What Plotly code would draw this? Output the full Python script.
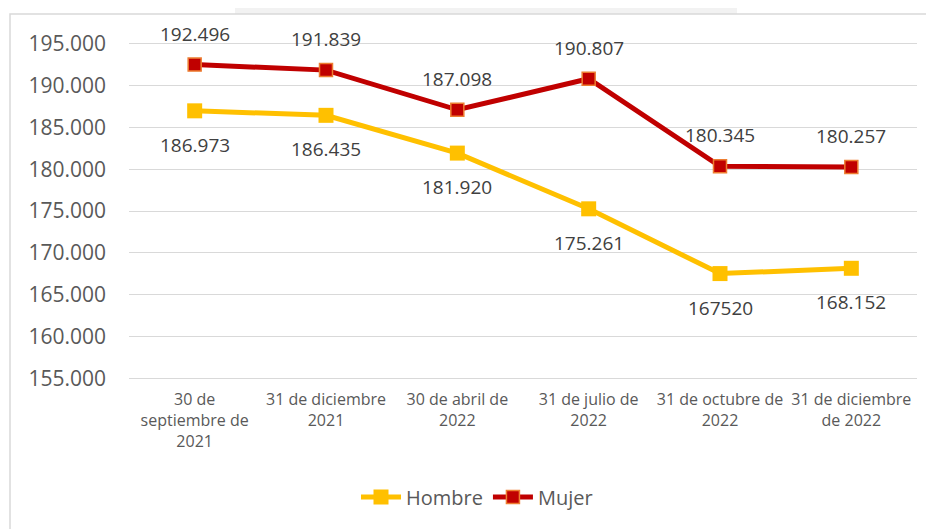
import plotly.graph_objects as go

categories = [
    "30 de<br>septiembre de<br>2021",
    "31 de diciembre<br>2021",
    "30 de abril de<br>2022",
    "31 de julio de<br>2022",
    "31 de octubre de<br>2022",
    "31 de diciembre<br>de 2022",
]
hombre = [186973, 186435, 181920, 175261, 167520, 168152]
mujer = [192496, 191839, 187098, 190807, 180345, 180257]
hombre_labels = ["186.973", "186.435", "181.920", "175.261", "167520", "168.152"]
mujer_labels = ["192.496", "191.839", "187.098", "190.807", "180.345", "180.257"]

FONT = "Open Sans"
TXT = "#595959"

fig = go.Figure()
fig.add_trace(go.Scatter(
    x=categories, y=hombre, name="Hombre", mode="lines+markers",
    line=dict(color="#FFC000", width=5),
    marker=dict(symbol="square", size=15, color="#FFC000", line=dict(width=0)),
    cliponaxis=False,
))
fig.add_trace(go.Scatter(
    x=categories, y=mujer, name="Mujer", mode="lines+markers",
    line=dict(color="#C00000", width=5),
    marker=dict(symbol="square", size=13, color="#C00000",
                line=dict(width=1.5, color="#ED7D31")),
    cliponaxis=False,
))

annotations = []
for c, v, t in zip(categories, mujer, mujer_labels):
    annotations.append(dict(x=c, y=v, text=t, showarrow=False, yshift=31,
                            font=dict(family=FONT, size=19, color="#404040")))
for c, v, t in zip(categories, hombre, hombre_labels):
    annotations.append(dict(x=c, y=v, text=t, showarrow=False, yshift=-34,
                            font=dict(family=FONT, size=19, color="#404040")))

# page body has an 8px margin; figure is offset by it
OFF = 8
W, H = 934 - OFF, 529 - OFF
L, R, T, B = 129 - OFF, 17, 42 - OFF, 149
pw, ph = W - L - R, H - T - B

def px_x(px):
    return (px - OFF - L) / pw

def px_y(py):
    return (H - B - (py - OFF)) / ph

fig.update_layout(
    width=W, height=H,
    margin=dict(l=L, r=R, t=T, b=B, autoexpand=False),
    paper_bgcolor="white", plot_bgcolor="white",
    separators=",.",
    font=dict(family=FONT, color=TXT),
    showlegend=True,
    legend=dict(orientation="h", x=px_x(477), xanchor="center",
                y=px_y(497), yanchor="middle",
                font=dict(family=FONT, size=20, color=TXT),
                itemwidth=40, bgcolor="rgba(0,0,0,0)"),
    annotations=annotations,
    shapes=[
        dict(type="rect", xref="paper", yref="paper",
             x0=px_x(235), x1=px_x(737), y0=px_y(14), y1=px_y(0),
             fillcolor="#F2F2F2", line=dict(width=0), layer="below"),
        dict(type="rect", xref="paper", yref="paper",
             x0=px_x(10), x1=px_x(945), y0=px_y(14), y1=px_y(540),
             fillcolor="rgba(0,0,0,0)", line=dict(color="#D9D9D9", width=1.5),
             layer="below"),
    ],
)
fig.update_xaxes(
    type="category", range=[-0.5, 5.5], showgrid=False, zeroline=False,
    showline=False, ticks="", tickangle=0, automargin=False,
    ticklabelstandoff=8,
    tickfont=dict(family=FONT, size=16, color=TXT),
)
fig.update_yaxes(
    range=[154800, 195200], dtick=5000, tick0=155000, tickformat=",d",
    showgrid=True, gridcolor="#D9D9D9", gridwidth=1.3, zeroline=False,
    showline=False, ticks="", ticklabelstandoff=22, automargin=False,
    tickfont=dict(family=FONT, size=21, color=TXT),
)

fig.write_html("out.html")
